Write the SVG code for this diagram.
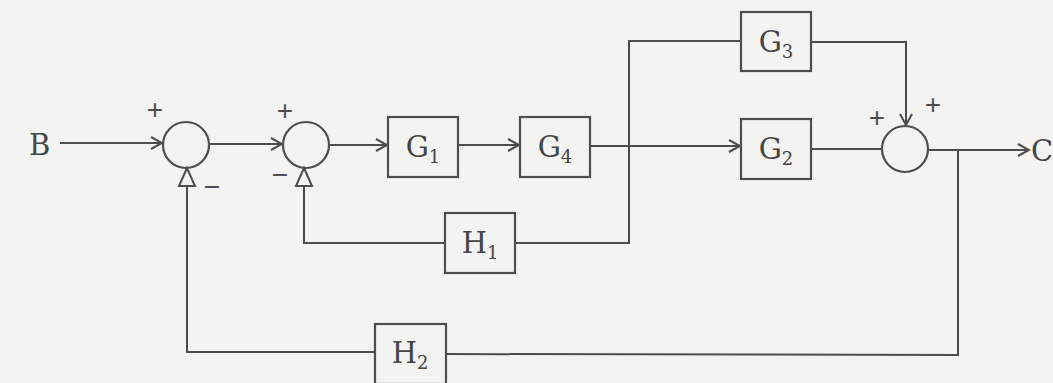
<svg xmlns="http://www.w3.org/2000/svg" width="1053" height="383" viewBox="0 0 1053 383">
<style>
.ln{fill:none;stroke:#4d4d4d;stroke-width:2}
.bx{fill:none;stroke:#4d4d4d;stroke-width:2.2}
.sj{fill:none;stroke:#4d4d4d;stroke-width:2.2}
.t{font-family:"DejaVu Serif","Liberation Serif",serif;font-size:29px;fill:#454545}
.s{font-size:18px}
.sg{font-family:"Liberation Sans",sans-serif;font-size:28px;fill:#4d4d4d}
.tri{fill:#f3f3f1;stroke:#4d4d4d;stroke-width:2}
</style>
<defs>
<marker id="ar" markerWidth="14" markerHeight="14" refX="12" refY="7" orient="auto" markerUnits="userSpaceOnUse">
<path d="M1,1 L12,7 L1,13" fill="none" stroke="#4d4d4d" stroke-width="2"/>
</marker>
</defs>
<rect width="1053" height="383" fill="#f3f3f1"/>
<g id="connectors">
<line class="ln" x1="60" y1="143" x2="162" y2="143" marker-end="url(#ar)"/>
<line class="ln" x1="209" y1="144" x2="282" y2="144" marker-end="url(#ar)"/>
<line class="ln" x1="329" y1="145" x2="387" y2="145" marker-end="url(#ar)"/>
<line class="ln" x1="458" y1="145" x2="519" y2="145" marker-end="url(#ar)"/>
<line class="ln" x1="590" y1="146" x2="740" y2="146" marker-end="url(#ar)"/>
<polyline class="ln" points="741,41 629,41 629,243 515,243"/>
<polyline class="ln" points="811,42 906,42 906,125" marker-end="url(#ar)"/>
<line class="ln" x1="811" y1="149" x2="882" y2="149"/>
<line class="ln" x1="928" y1="150" x2="1029" y2="150" marker-end="url(#ar)"/>
<polyline class="ln" points="958,150 958,355 446,354"/>
<polyline class="ln" points="375,352 187,352 187,186"/>
<polyline class="ln" points="445,243 304,243 304,186"/>
<polygon class="tri" points="187,168 179,186 195,186"/>
<polygon class="tri" points="304,168 296,186 312,186"/>
</g>
<g id="B"><text class="t" x="29" y="155">B</text></g>
<g id="C"><text class="t" x="1031" y="161">C</text></g>
<g id="sum1"><circle class="sj" cx="186" cy="145" r="23"/>
<text class="sg" x="155" y="119" text-anchor="middle">+</text>
<text class="sg" x="212" y="196" text-anchor="middle">−</text></g>
<g id="sum2"><circle class="sj" cx="306" cy="145" r="23"/>
<text class="sg" x="285" y="120" text-anchor="middle">+</text>
<text class="sg" x="280" y="184" text-anchor="middle">−</text></g>
<g id="sum3"><circle class="sj" cx="905" cy="149" r="23"/>
<text class="sg" x="877" y="127" text-anchor="middle">+</text>
<text class="sg" x="933" y="114" text-anchor="middle">+</text></g>
<g id="G1"><rect class="bx" x="388" y="117" width="70" height="60"/>
<text class="t" x="423" y="157" text-anchor="middle">G<tspan class="s" dy="6">1</tspan></text></g>
<g id="G4"><rect class="bx" x="520" y="117" width="70" height="60"/>
<text class="t" x="555" y="157" text-anchor="middle">G<tspan class="s" dy="6">4</tspan></text></g>
<g id="G3"><rect class="bx" x="741" y="12" width="70" height="59"/>
<text class="t" x="776" y="52" text-anchor="middle">G<tspan class="s" dy="6">3</tspan></text></g>
<g id="G2"><rect class="bx" x="741" y="119" width="70" height="60"/>
<text class="t" x="776" y="159" text-anchor="middle">G<tspan class="s" dy="6">2</tspan></text></g>
<g id="H1"><rect class="bx" x="445" y="213" width="70" height="60"/>
<text class="t" x="480" y="253" text-anchor="middle">H<tspan class="s" dy="6">1</tspan></text></g>
<g id="H2"><rect class="bx" x="375" y="324" width="71" height="60"/>
<text class="t" x="410" y="363" text-anchor="middle">H<tspan class="s" dy="6">2</tspan></text></g>
</svg>
